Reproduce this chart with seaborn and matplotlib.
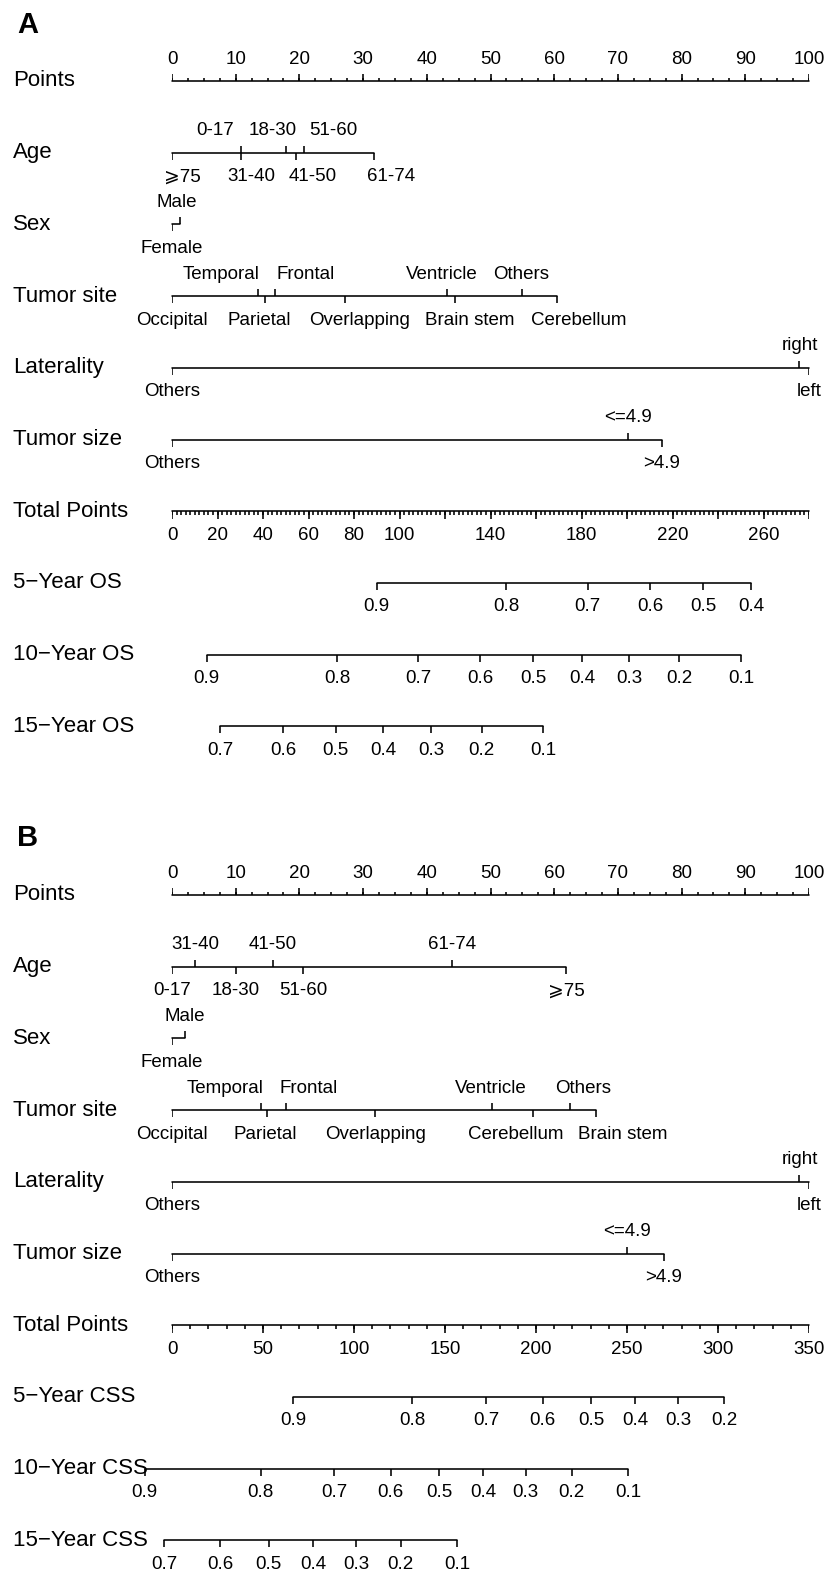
import matplotlib
matplotlib.use("Agg")
import matplotlib.pyplot as plt
import seaborn as sns
import numpy as np

# ---------------------------------------------------------------
# Values (points on the 0-100 scale,
# survival ticks as positions on the Total Points scale)
# ---------------------------------------------------------------

# Panel A - overall survival
a_age_cats = ["\u2a7e75", "0-17", "31-40", "18-30", "41-50", "51-60", "61-74"]
a_age_pts = [0, 10.8, 10.8, 17.9, 19.5, 20.7, 31.7]
a_sex_cats = ["Female", "Male"]
a_sex_pts = [0, 1.2]
a_site_cats = ["Occipital", "Temporal", "Parietal", "Frontal", "Overlapping",
               "Ventricle", "Brain stem", "Others", "Cerebellum"]
a_site_pts = [0, 13.5, 14.6, 16.2, 27.1, 43.2, 44.5, 55.0, 60.4]
a_lat_cats = ["Others", "right", "left"]
a_lat_pts = [0, 98.5, 100]
a_size_cats = ["Others", "<=4.9", ">4.9"]
a_size_pts = [0, 71.6, 76.9]

a_total_max = 280
a_total_labels = [0, 20, 40, 60, 80, 100, 140, 180, 220, 260]

a_os5_prob = [0.9, 0.8, 0.7, 0.6, 0.5, 0.4]
a_os5_total = [89.9, 147.0, 182.8, 210.1, 233.4, 254.5]
a_os10_prob = [0.9, 0.8, 0.7, 0.6, 0.5, 0.4, 0.3, 0.2, 0.1]
a_os10_total = [15.3, 72.7, 108.2, 135.6, 158.8, 180.2, 200.8, 222.9, 250.3]
a_os15_prob = [0.7, 0.6, 0.5, 0.4, 0.3, 0.2, 0.1]
a_os15_total = [21.1, 48.8, 72.0, 92.9, 114.0, 136.1, 163.2]

# Panel B - cancer-specific survival
b_age_cats = ["0-17", "31-40", "18-30", "41-50", "51-60", "61-74", "\u2a7e75"]
b_age_pts = [0, 3.6, 10.0, 15.8, 20.6, 43.9, 61.9]
b_sex_cats = ["Female", "Male"]
b_sex_pts = [0, 2.1]
b_site_cats = ["Occipital", "Temporal", "Parietal", "Frontal", "Overlapping",
               "Ventricle", "Cerebellum", "Others", "Brain stem"]
b_site_pts = [0, 13.9, 14.9, 17.9, 31.9, 50.2, 56.7, 62.5, 66.6]
b_lat_cats = ["Others", "right", "left"]
b_lat_pts = [0, 98.5, 100]
b_size_cats = ["Others", "<=4.9", ">4.9"]
b_size_pts = [0, 71.5, 77.2]

b_total_max = 350
b_total_labels = [0, 50, 100, 150, 200, 250, 300, 350]

b_css5_prob = [0.9, 0.8, 0.7, 0.6, 0.5, 0.4, 0.3, 0.2]
b_css5_total = [66.7, 132.0, 172.7, 203.7, 230.4, 254.5, 278.0, 303.5]
b_css10_prob = [0.9, 0.8, 0.7, 0.6, 0.5, 0.4, 0.3, 0.2, 0.1]
b_css10_total = [-15.0, 48.8, 89.1, 120.1, 146.8, 170.9, 194.4, 219.7, 250.7]
b_css15_prob = [0.7, 0.6, 0.5, 0.4, 0.3, 0.2, 0.1]
b_css15_total = [-4.4, 26.4, 53.1, 77.5, 101.0, 125.7, 156.7]

# ---------------------------------------------------------------
# Layout (pixels of the 827 x 1574 output)
# ---------------------------------------------------------------
W, H = 827, 1574
X0, X1 = 172, 809          # where 0 and 100 points sit
ROW_H = 71.7               # spacing between scales
LW = 1.15
TICK = 7
FS_ROW = 16
FS_TICK = 13.5
UP_OFF, DOWN_OFF = -22, 24

# where labels were nudged sideways in the original to avoid overlap
label_at_a = {
    "age": {"\u2a7e75": 1.7, "0-17": 6.8, "31-40": 12.5, "18-30": 15.8,
            "41-50": 22.1, "51-60": 25.3, "61-74": 34.4},
    "sex": {"Male": 0.8},
    "site": {"Temporal": 7.7, "Parietal": 13.7, "Frontal": 21.0, "Overlapping": 29.4,
             "Ventricle": 42.4, "Brain stem": 46.8, "Others": 54.8, "Cerebellum": 63.8},
}
label_at_b = {
    "sex": {"Male": 2.0},
    "site": {"Temporal": 8.3, "Parietal": 14.6, "Frontal": 21.4, "Overlapping": 32.0,
             "Ventricle": 50.0, "Cerebellum": 53.9, "Others": 64.5, "Brain stem": 70.7},
}

sns.set_theme(style="white")
plt.rcParams['font.family'] = ['Liberation Sans', 'DejaVu Sans']
plt.rcParams['text.color'] = 'black'

fig = plt.figure(figsize=(W / 100, H / 100), dpi=100)
fig.patch.set_facecolor("white")


def row_axes(y_line, xmax):
    ax = fig.add_axes([X0 / W, 1 - (y_line + ROW_H / 2) / H, (X1 - X0) / W, ROW_H / H])
    ax.set_xlim(0, xmax)
    ax.set_ylim(ROW_H / 2, -ROW_H / 2)   # y in pixels, growing downwards
    ax.set_axis_off()
    return ax


def axis_line(ax, lo, hi):
    sns.lineplot(x=[lo, hi], y=[0, 0], ax=ax, color="black", lw=LW,
                 clip_on=False, legend=False)


def tick_label(ax, x, y, s):
    ax.text(x, y, s, ha="center", va="center", fontsize=FS_TICK,
            color="black", clip_on=False)


def points_scale(ax):
    axis_line(ax, 0, 100)
    ax.vlines(np.arange(0, 100.1, 2.5), 0, -3.5, color="black", lw=LW)
    major = np.arange(0, 101, 10)
    ax.vlines(major, 0, -TICK, color="black", lw=LW)
    for v in major:
        tick_label(ax, v, UP_OFF, f"{v:g}")


def total_scale(ax, tmax, labels, step_major, step_minor):
    axis_line(ax, 0, tmax)
    ax.vlines(np.arange(0, tmax + 0.1, step_minor), 0, 3.7, color="black", lw=LW)
    ax.vlines(np.arange(0, tmax + 0.1, step_major), 0, 7.7, color="black", lw=LW)
    for v in labels:
        tick_label(ax, v, DOWN_OFF, f"{v:g}")


def category_scale(ax, cats, pts, label_at=None):
    label_at = label_at or {}
    axis_line(ax, min(pts), max(pts))
    order = np.argsort(pts, kind="stable")
    for rank, i in enumerate(order):
        up = rank % 2 == 1
        ax.vlines(pts[i], 0, -TICK if up else TICK, color="black", lw=LW)
        tick_label(ax, label_at.get(cats[i], pts[i]), UP_OFF if up else DOWN_OFF, cats[i])


def survival_scale(ax, probs, totals):
    axis_line(ax, min(totals), max(totals))
    ax.vlines(totals, 0, TICK, color="black", lw=LW, clip_on=False)
    for p, t in zip(probs, totals):
        tick_label(ax, t, DOWN_OFF, f"{p:g}")


def panel(letter, letter_y, y0, rows, tmax, tlabels, steps, surv_names, surv):
    fig.text(17 / W, 1 - letter_y / H, letter, fontsize=21, fontweight="bold",
             ha="left", va="center", color="black")
    names = ["Points", "Age", "Sex", "Tumor site", "Laterality", "Tumor size",
             "Total Points"] + surv_names
    for k, name in enumerate(names):
        fig.text(13 / W, 1 - (y0 + k * ROW_H) / H, name, fontsize=FS_ROW,
                 ha="left", va="center", color="black")

    points_scale(row_axes(y0, 100))
    for k, (cats, pts, lab) in enumerate(rows, start=1):
        category_scale(row_axes(y0 + k * ROW_H, 100), cats, pts, lab)
    total_scale(row_axes(y0 + 6 * ROW_H, tmax), tmax, tlabels, *steps)
    for k, (probs, totals) in enumerate(surv, start=7):
        survival_scale(row_axes(y0 + k * ROW_H, tmax), probs, totals)


panel("A", 25, 81,
      [(a_age_cats, a_age_pts, label_at_a["age"]),
       (a_sex_cats, a_sex_pts, label_at_a["sex"]),
       (a_site_cats, a_site_pts, label_at_a["site"]),
       (a_lat_cats, a_lat_pts, None),
       (a_size_cats, a_size_pts, None)],
      a_total_max, a_total_labels, (20, 2),
      ["5\u2212Year OS", "10\u2212Year OS", "15\u2212Year OS"],
      [(a_os5_prob, a_os5_total), (a_os10_prob, a_os10_total),
       (a_os15_prob, a_os15_total)])

panel("B", 838, 895,
      [(b_age_cats, b_age_pts, None),
       (b_sex_cats, b_sex_pts, label_at_b["sex"]),
       (b_site_cats, b_site_pts, label_at_b["site"]),
       (b_lat_cats, b_lat_pts, None),
       (b_size_cats, b_size_pts, None)],
      b_total_max, b_total_labels, (50, 10),
      ["5\u2212Year CSS", "10\u2212Year CSS", "15\u2212Year CSS"],
      [(b_css5_prob, b_css5_total), (b_css10_prob, b_css10_total),
       (b_css15_prob, b_css15_total)])

fig.savefig("out.png", dpi=100, facecolor="white")
